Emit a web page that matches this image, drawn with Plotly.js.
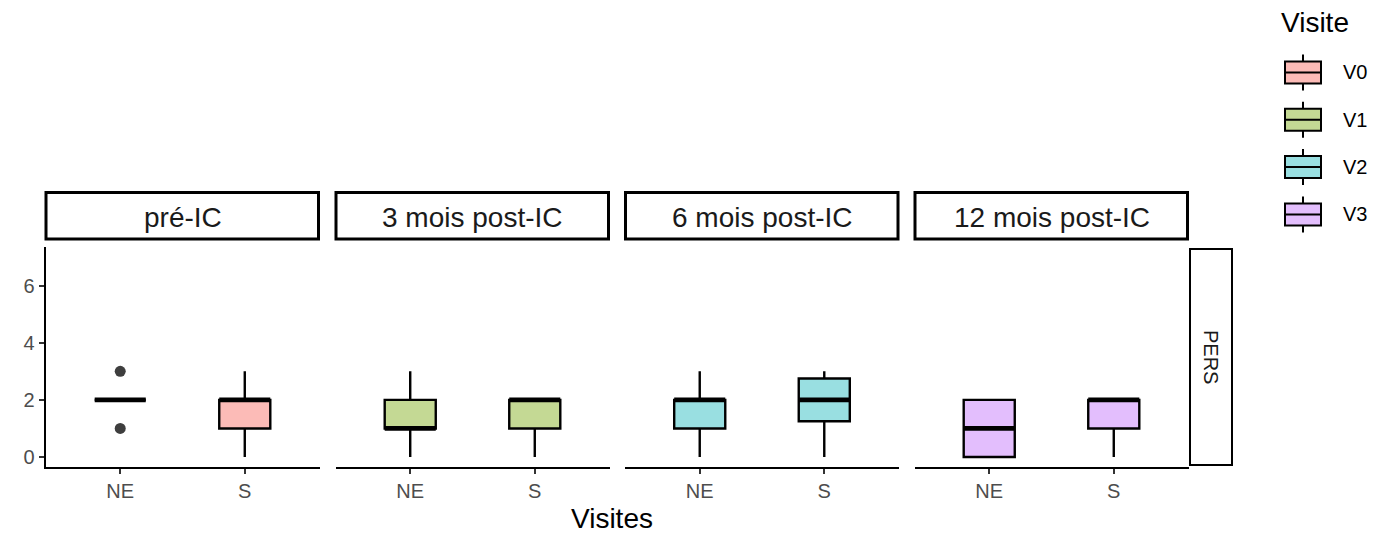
<!DOCTYPE html>
<html>
<head>
<meta charset="utf-8">
<script src="https://cdn.plot.ly/plotly-3.0.1.min.js"></script>
<style>
  html, body { margin: 0; padding: 0; background: #ffffff; }
  #chart { width: 1375px; height: 535px; }
</style>
</head>
<body>
<div id="chart"></div>
<script>
// Score PERS by visit period and group (NE / S): box summaries per facet
const periodes = ['pré-IC', '3 mois post-IC', '6 mois post-IC', '12 mois post-IC'];
const visites = ['V0', 'V1', 'V2', 'V3'];
const groupes = ['NE', 'S'];
const variable = 'PERS';

// per period: [NE, S]
const q1 = [[2, 1], [1, 1], [1, 1.25], [0, 1]];
const mediane = [[2, 2], [1, 2], [2, 2], [1, 2]];
const q3 = [[2, 2], [2, 2], [2, 2.75], [2, 2]];
const moustacheBas = [[2, 0], [0, 0], [0, 0], [0, 0]];
const moustacheHaut = [[2, 3], [3, 2], [3, 3], [2, 2]];
// outlying values per period: [NE values, S values]
const extremes = [[[1, 3], []], [[], []], [[], []], [[], []]];

const yTicks = [0, 2, 4, 6];

// styling
const remplissage = ['#FCBBB7', '#C4D994', '#99DFE1', '#E3BEFD'];
const police = 'Liberation Sans, Arial, Helvetica, sans-serif';
const W = 1375, H = 535;
const px = v => v / W;
const py = v => 1 - v / H;

const panelX0 = [45.5, 335.5, 625, 914.5];
const panelW = 274;
const panelTop = 247, panelBottom = 467;
const boxWidth = 0.41;
const xRange = [-0.6, 1.6];
const yRange = [-0.35, 7.35];
const tickSize = 20;

const traces = [];
const layout = {
  width: W, height: H,
  margin: {l: 0, r: 0, t: 0, b: 0},
  paper_bgcolor: '#ffffff',
  plot_bgcolor: 'rgba(0,0,0,0)',
  showlegend: false,
  font: {family: police, color: '#000000'},
  shapes: [],
  annotations: []
};

periodes.forEach((p, i) => {
  const n = i + 1;
  const xa = n === 1 ? 'x' : 'x' + n;
  const ya = n === 1 ? 'y' : 'y' + n;
  const xKey = n === 1 ? 'xaxis' : 'xaxis' + n;
  const yKey = n === 1 ? 'yaxis' : 'yaxis' + n;
  const xs = groupes.map((g, j) => j);

  traces.push({
    type: 'box',
    name: visites[i],
    xaxis: xa, yaxis: ya,
    x: xs,
    q1: q1[i], median: mediane[i], q3: q3[i],
    lowerfence: moustacheBas[i], upperfence: moustacheHaut[i],
    width: boxWidth,
    whiskerwidth: 0,
    fillcolor: remplissage[i],
    line: {color: '#000000', width: 2.4},
    hoverinfo: 'skip'
  });

  // thick median bar across each box
  const mx = [], my = [];
  xs.forEach((x, j) => {
    mx.push(x - boxWidth / 2, x + boxWidth / 2, null);
    my.push(mediane[i][j], mediane[i][j], null);
  });
  traces.push({
    type: 'scatter', mode: 'lines',
    xaxis: xa, yaxis: ya,
    x: mx, y: my,
    line: {color: '#000000', width: 4.8},
    hoverinfo: 'skip'
  });

  // outlying points
  const ox = [], oy = [];
  xs.forEach((x, j) => {
    extremes[i][j].forEach(v => { ox.push(x); oy.push(v); });
  });
  if (ox.length) {
    traces.push({
      type: 'scatter', mode: 'markers',
      xaxis: xa, yaxis: ya,
      x: ox, y: oy,
      marker: {size: 11, color: 'rgba(20,20,20,0.82)'},
      hoverinfo: 'skip'
    });
  }

  const x0 = panelX0[i], x1 = panelX0[i] + panelW;
  layout[xKey] = {
    domain: [px(x0), px(x1)],
    anchor: ya,
    range: xRange,
    tickmode: 'array', tickvals: xs, ticktext: groupes,
    showline: true, linecolor: '#000000', linewidth: 2,
    ticks: 'outside', ticklen: 5, tickwidth: 2, tickcolor: '#333333',
    tickfont: {family: police, size: tickSize, color: '#4D4D4D'},
    showgrid: false, zeroline: false, fixedrange: true
  };
  layout[yKey] = {
    domain: [py(panelBottom), py(panelTop)],
    anchor: xa,
    range: yRange,
    tickmode: 'array', tickvals: yTicks,
    showticklabels: i === 0,
    showline: i === 0, linecolor: '#000000', linewidth: 2,
    ticks: i === 0 ? 'outside' : '', ticklen: 5, tickwidth: 2, tickcolor: '#333333',
    tickfont: {family: police, size: tickSize, color: '#4D4D4D'},
    showgrid: false, zeroline: false, fixedrange: true
  };

  // facet strip
  layout.shapes.push({
    type: 'rect', xref: 'paper', yref: 'paper',
    x0: px(x0 + 0.5), x1: px(x1 - 1), y0: py(239), y1: py(192.5),
    line: {color: '#000000', width: 3}, fillcolor: '#ffffff'
  });
  layout.annotations.push({
    xref: 'paper', yref: 'paper',
    x: px((x0 + x1) / 2), y: py(217), xanchor: 'center', yanchor: 'middle',
    text: p, showarrow: false,
    font: {family: police, size: 28, color: '#1A1A1A'}
  });
});

// row strip
layout.shapes.push({
  type: 'rect', xref: 'paper', yref: 'paper',
  x0: px(1190), x1: px(1232), y0: py(465), y1: py(249),
  line: {color: '#000000', width: 2}, fillcolor: '#ffffff'
});
layout.annotations.push({
  xref: 'paper', yref: 'paper',
  x: px(1211), y: py(357), xanchor: 'center', yanchor: 'middle',
  text: variable, textangle: 90, showarrow: false,
  font: {family: police, size: 20, color: '#1A1A1A'}
});

// x axis title
layout.annotations.push({
  xref: 'paper', yref: 'paper',
  x: px(612), y: 0, xanchor: 'center', yanchor: 'bottom',
  text: 'Visites', showarrow: false, borderpad: 0,
  font: {family: police, size: 28, color: '#000000'}
});

// legend
layout.annotations.push({
  xref: 'paper', yref: 'paper',
  x: px(1279), y: py(22), xanchor: 'left', yanchor: 'middle',
  text: 'Visite', showarrow: false,
  font: {family: police, size: 28, color: '#000000'}
});
visites.forEach((v, k) => {
  const cy = 72.5 + 47.3 * k;
  const kx0 = 1285, kx1 = 1321, kc = (kx0 + kx1) / 2;
  layout.shapes.push({
    type: 'line', xref: 'paper', yref: 'paper',
    x0: px(kc), x1: px(kc), y0: py(cy - 18), y1: py(cy + 18),
    line: {color: '#000000', width: 2}
  });
  layout.shapes.push({
    type: 'rect', xref: 'paper', yref: 'paper',
    x0: px(kx0), x1: px(kx1), y0: py(cy + 11), y1: py(cy - 11),
    line: {color: '#000000', width: 2}, fillcolor: remplissage[k]
  });
  layout.shapes.push({
    type: 'line', xref: 'paper', yref: 'paper',
    x0: px(kx0), x1: px(kx1), y0: py(cy), y1: py(cy),
    line: {color: '#000000', width: 2}
  });
  layout.annotations.push({
    xref: 'paper', yref: 'paper',
    x: px(1341), y: py(cy), xanchor: 'left', yanchor: 'middle',
    text: v, showarrow: false,
    font: {family: police, size: 20, color: '#000000'}
  });
});

Plotly.newPlot('chart', traces, layout, {displayModeBar: false, staticPlot: true});
</script>
</body>
</html>
